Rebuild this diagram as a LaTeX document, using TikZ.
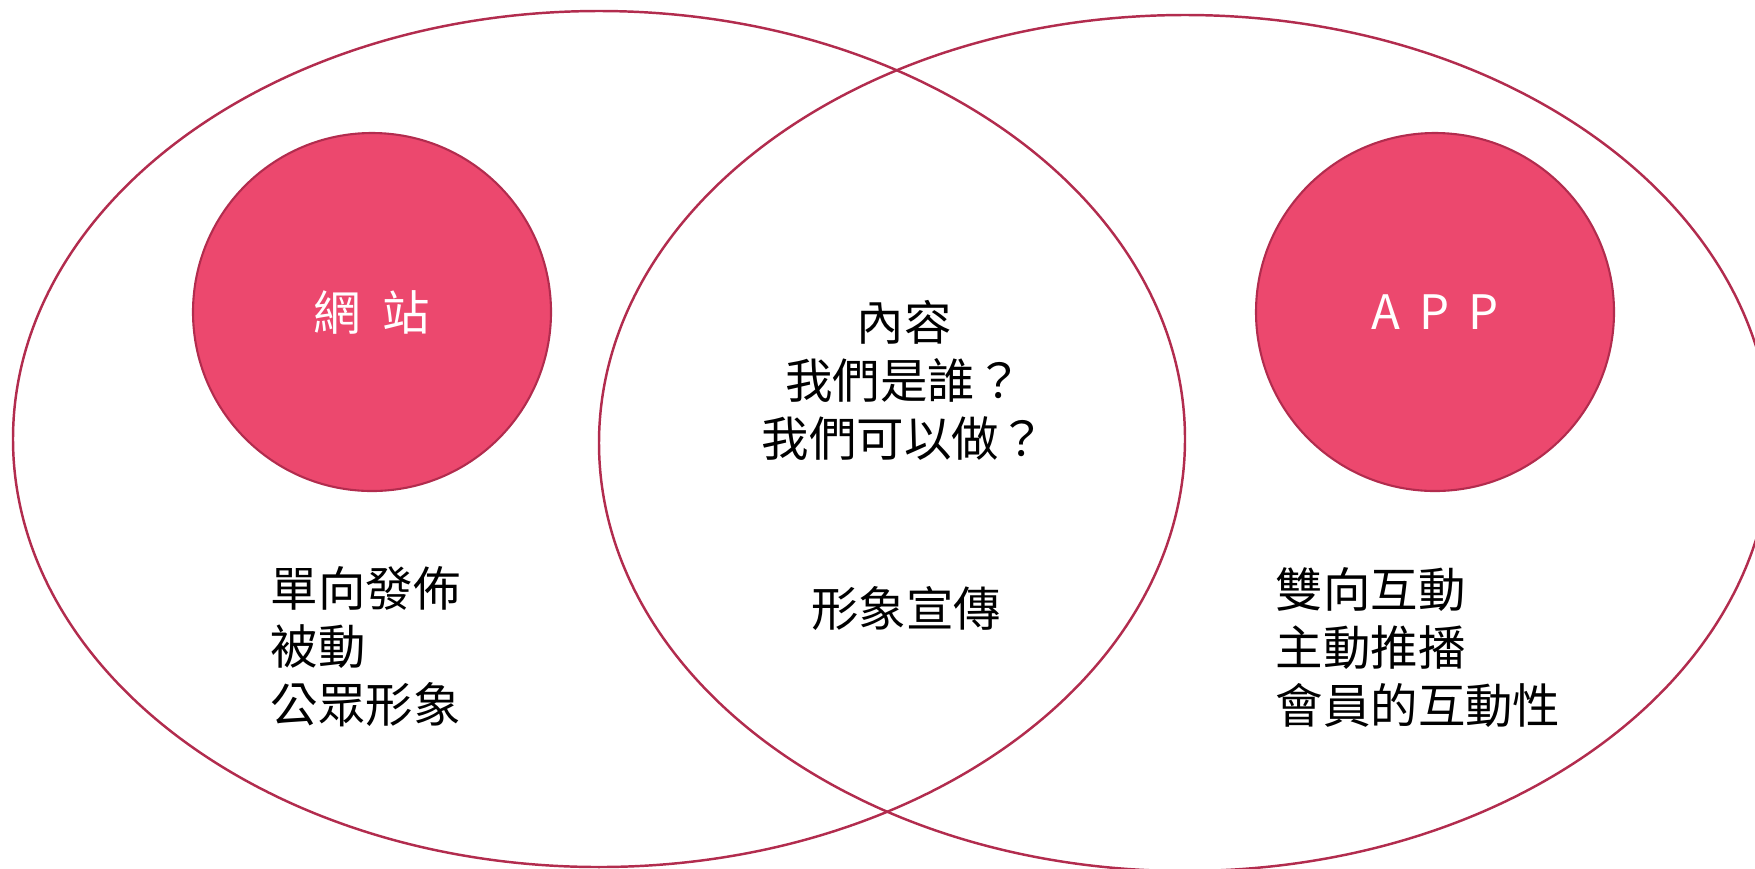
\documentclass[tikz,border=0pt]{standalone}
\usepackage{fontspec}
\setmainfont{Noto Sans CJK TC}
\usepackage{tikz}
\usetikzlibrary{shapes.geometric}
\definecolor{petal}{RGB}{236,72,110}
\definecolor{rim}{RGB}{178,44,78}

\begin{document}
\begin{tikzpicture}
		\tikzset{field/.style={shape = ellipse, draw = rim, line width = 0.7pt, minimum width = 11.72cm, minimum height = 8.56cm, inner sep = 0pt}}
		\tikzset{bubble/.style={shape = circle, draw = rim, line width = 0.6pt, fill = petal, minimum size = 3.58cm, inner sep = 0pt, text = white, font = \fontsize{13.5pt}{16pt}\selectfont}}
		\tikzset{words/.style={font = \fontsize{13.5pt}{16.5pt}\selectfont, inner sep = 0pt}}
					\useasboundingbox (0, 0) rectangle (17.55, -8.68);
					%ellipses
					\node[field] (web) at (5.99, -4.39) {};
					\node[field] (app) at (11.85, -4.43) {};
					%circles
					\node[bubble] (webdot) at (3.72, -3.12) {網\hspace{0.45em}站};
					\node[bubble] (appdot) at (14.35, -3.12) {A\hspace{0.4em}P\hspace{0.4em}P};
					%texts
					\node[words, align = center] (both) at (9.04, -3.80) {內容\\我們是誰？\\我們可以做？};
					\node[words] (image) at (9.06, -6.08) {形象宣傳};
					\node[words, align = left, anchor = west] (webtext) at (2.70, -6.47) {單向發佈\\被動\\公眾形象};
					\node[words, align = left, anchor = west] (apptext) at (12.75, -6.48) {雙向互動\\主動推播\\會員的互動性};
					
					\end{tikzpicture}
\end{document}
